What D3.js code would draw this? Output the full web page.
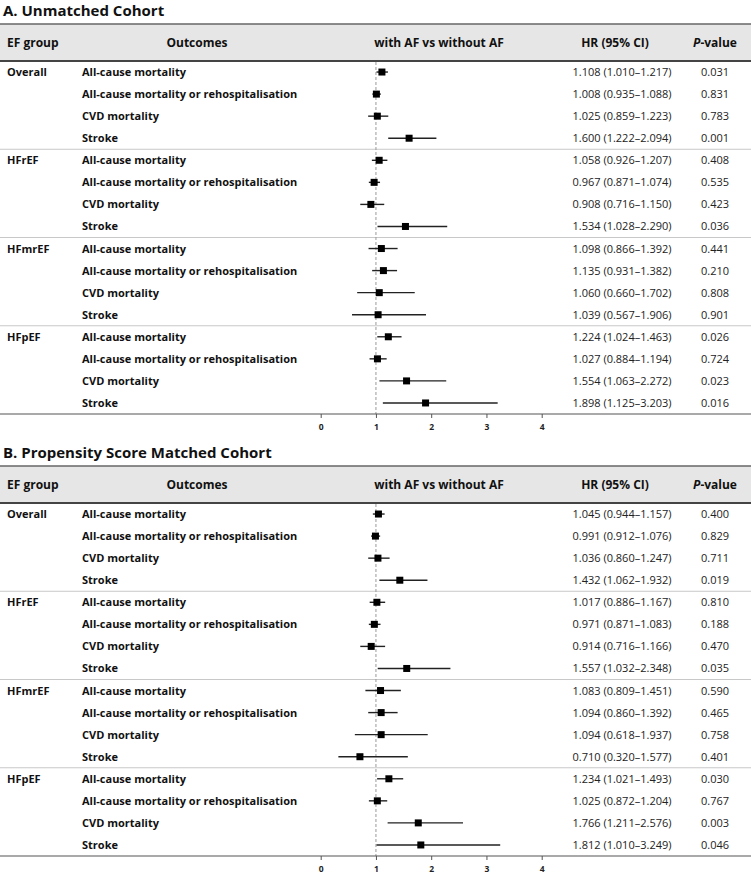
<!DOCTYPE html>
<html><head><meta charset="utf-8">
<script src="https://cdn.jsdelivr.net/npm/d3@7"></script>
<style>
html,body{margin:0;padding:0;background:#fff;}
svg{display:block;font-family:"Open Sans",sans-serif;}
</style></head>
<body><svg id="c" width="751" height="875"></svg>
<script>
const groups = ["Overall","HFrEF","HFmrEF","HFpEF"];
const outcomes = ["All-cause mortality","All-cause mortality or rehospitalisation","CVD mortality","Stroke"];
const ticks = [0,1,2,3,4];

const titleA = "A. Unmatched Cohort";
const hrA = [1.108,1.008,1.025,1.600, 1.058,0.967,0.908,1.534, 1.098,1.135,1.060,1.039, 1.224,1.027,1.554,1.898];
const loA = [1.010,0.935,0.859,1.222, 0.926,0.871,0.716,1.028, 0.866,0.931,0.660,0.567, 1.024,0.884,1.063,1.125];
const hiA = [1.217,1.088,1.223,2.094, 1.207,1.074,1.150,2.290, 1.392,1.382,1.702,1.906, 1.463,1.194,2.272,3.203];
const pA  = ["0.031","0.831","0.783","0.001","0.408","0.535","0.423","0.036","0.441","0.210","0.808","0.901","0.026","0.724","0.023","0.016"];

const titleB = "B. Propensity Score Matched Cohort";
const hrB = [1.045,0.991,1.036,1.432, 1.017,0.971,0.914,1.557, 1.083,1.094,1.094,0.710, 1.234,1.025,1.766,1.812];
const loB = [0.944,0.912,0.860,1.062, 0.886,0.871,0.716,1.032, 0.809,0.860,0.618,0.320, 1.021,0.872,1.211,1.010];
const hiB = [1.157,1.076,1.247,1.932, 1.167,1.083,1.166,2.348, 1.451,1.392,1.937,1.577, 1.493,1.204,2.576,3.249];
const pB  = ["0.400","0.829","0.711","0.019","0.810","0.188","0.470","0.035","0.590","0.465","0.758","0.401","0.030","0.767","0.003","0.046"];

const svg = d3.select("#c");
const W = 751;
const x = d3.scaleLinear().domain([0,4]).range([320.7, 541.7]);
const f3 = d3.format(".3f");

function panel(off, title, hr, lo, hi, p){
  const g = svg.append("g").attr("transform", `translate(0,${off})`);
  const rows = hr.map((v,i)=>({i, grp: groups[Math.floor(i/4)], out: outcomes[i%4], hr:v, lo:lo[i], hi:hi[i], p:p[i]}));
  const y = d3.scaleBand().domain(d3.range(rows.length)).range([61, 414]).padding(0);
  const yc = i => y(i) + y.bandwidth()/2;

  g.append("text").attr("x",3).attr("y",16).attr("font-size",15).attr("font-weight",700).attr("fill","#111").text(title);

  // header
  g.append("rect").attr("x",0).attr("y",24).attr("width",W).attr("height",37).attr("fill","#e6e6e6");
  g.append("line").attr("x1",0).attr("x2",W).attr("y1",24).attr("y2",24).attr("stroke","#666").attr("stroke-width",1.5);
  g.append("line").attr("x1",0).attr("x2",W).attr("y1",61).attr("y2",61).attr("stroke","#444").attr("stroke-width",2);
  const hy = 47;
  const hdr = g.append("g").attr("font-size",12).attr("font-weight",700).attr("fill","#111");
  hdr.append("text").attr("x",7).attr("y",hy).text("EF group");
  hdr.append("text").attr("x",197).attr("y",hy).attr("text-anchor","middle").text("Outcomes");
  hdr.append("text").attr("x",439).attr("y",hy).attr("text-anchor","middle").text("with AF vs without AF");
  hdr.append("text").attr("x",615).attr("y",hy).attr("text-anchor","middle").text("HR (95% CI)");
  const pv = hdr.append("text").attr("x",715).attr("y",hy).attr("text-anchor","middle");
  pv.append("tspan").attr("font-style","italic").text("P");
  pv.append("tspan").text("-value");

  // group separators
  [4,8,12].forEach(k=>{
    g.append("line").attr("x1",0).attr("x2",W).attr("y1",y(k)).attr("y2",y(k)).attr("stroke","#c8c8c8").attr("stroke-width",1);
  });

  // reference line
  g.append("line").attr("x1",x(1)).attr("x2",x(1)).attr("y1",62).attr("y2",414)
    .attr("stroke","#999").attr("stroke-width",1).attr("stroke-dasharray","3,2");

  // text columns
  g.selectAll("text.grp").data(rows.filter(r=>r.i%4===0)).join("text").attr("class","grp")
    .attr("x",7).attr("y",r=>yc(r.i)+4).attr("font-size",11).attr("font-weight",700).attr("fill","#111").text(r=>r.grp);
  g.selectAll("text.out").data(rows).join("text").attr("class","out")
    .attr("x",82).attr("y",r=>yc(r.i)+4).attr("font-size",11).attr("font-weight",700).attr("fill","#111").text(r=>r.out);
  g.selectAll("text.hr").data(rows).join("text").attr("class","hr")
    .attr("x",622).attr("y",r=>yc(r.i)+4).attr("text-anchor","middle").attr("font-size",11).attr("fill","#222")
    .text(r=>`${f3(r.hr)} (${f3(r.lo)}\u2013${f3(r.hi)})`);
  g.selectAll("text.pv").data(rows).join("text").attr("class","pv")
    .attr("x",715).attr("y",r=>yc(r.i)+4).attr("text-anchor","middle").attr("font-size",11).attr("fill","#222")
    .text(r=>r.p);

  // CI lines and markers
  g.selectAll("line.ci").data(rows).join("line").attr("class","ci")
    .attr("x1",r=>x(r.lo)).attr("x2",r=>x(r.hi)).attr("y1",r=>yc(r.i)).attr("y2",r=>yc(r.i))
    .attr("stroke","#222").attr("stroke-width",1.4);
  g.selectAll("rect.pt").data(rows).join("rect").attr("class","pt")
    .attr("x",r=>x(r.hr)-3.5).attr("y",r=>yc(r.i)-3.5).attr("width",7).attr("height",7).attr("fill","#000");

  // axis
  g.append("line").attr("x1",0).attr("x2",W).attr("y1",414).attr("y2",414).attr("stroke","#555").attr("stroke-width",1.2);
  const ax = g.append("g").attr("transform","translate(0,414)")
    .call(d3.axisBottom(x).tickValues(ticks).tickSize(4).tickFormat(d3.format("d")));
  ax.select(".domain").remove();
  ax.selectAll(".tick line").attr("stroke","#555");
  ax.selectAll(".tick text").attr("font-family","'Open Sans',sans-serif").attr("font-size",8.5).attr("font-weight",700).attr("fill","#222").attr("dy","1.1em");
}

panel(0, titleA, hrA, loA, hiA, pA);
panel(442, titleB, hrB, loB, hiB, pB);
</script></body></html>
